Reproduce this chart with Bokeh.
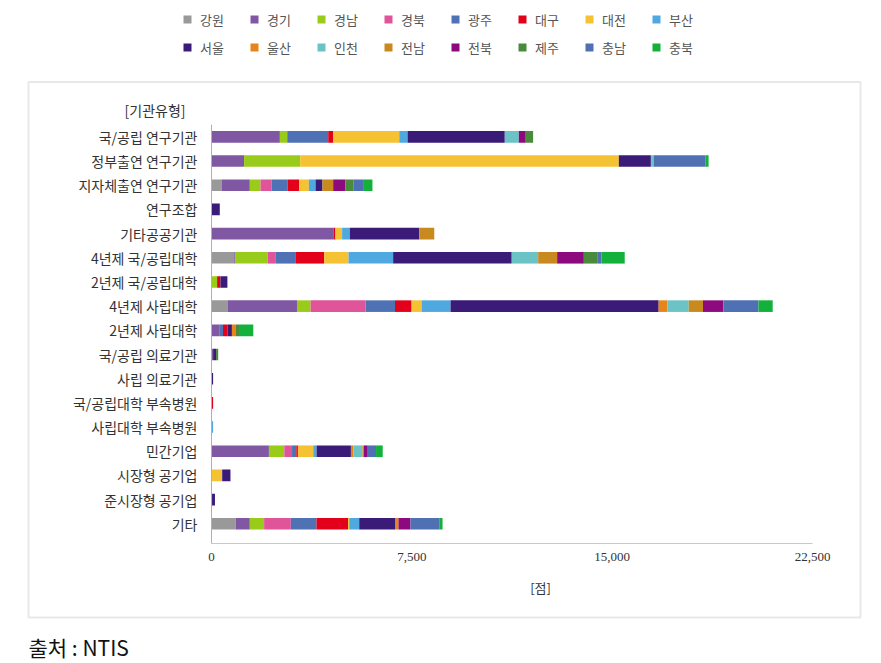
from bokeh.plotting import figure
from bokeh.models import (Range1d, FixedTicker, NumeralTickFormatter, Legend, LegendItem,
                          Label, Title, LinearAxis, ColumnDataSource, BoxAnnotation)
from bokeh.embed import file_html
from bokeh.resources import INLINE

KR = "Noto Sans CJK KR"

categories = ["국/공립 연구기관", "정부출연 연구기관", "지자체출연 연구기관", "연구조합", "기타공공기관",
              "4년제 국/공립대학", "2년제 국/공립대학", "4년제 사립대학", "2년제 사립대학",
              "국/공립 의료기관", "사립 의료기관", "국/공립대학 부속병원", "사립대학 부속병원",
              "민간기업", "시장형 공기업", "준시장형 공기업", "기타"]

regions = ["강원", "경기", "경남", "경북", "광주", "대구", "대전", "부산",
           "서울", "울산", "인천", "전남", "전북", "제주", "충남", "충북"]

colors = ["#999999", "#8057a3", "#99cc1a", "#e0559a", "#4f72b5", "#e3001b", "#f4c233", "#4fa8e0",
          "#3a1c78", "#e8851a", "#6cc3c6", "#c8891e", "#8c0a7e", "#4a8a3c", "#5070b4", "#13b03c"]

#            국공연  정부  지자체 조합  기타공  4국공  2국공  4사립  2사립 국의료 사의료 국병원 사병원 민간  시장  준시장 기타
gangwon   = [0,     0,     375,  0,    0,     850,   0,     600,   0,    0,    0,    0,    0,    0,    0,   0,    910]
gyeonggi  = [2560,  1220,  1060, 0,    4580,  50,    0,     2600,  310,  60,   0,    0,    0,    2150, 0,   20,   525]
gyeongnam = [275,   2100,  400,  0,    0,     1200,  210,   510,   0,    0,    0,    0,    0,    575,  0,   0,    535]
gyeongbuk = [0,     0,     410,  0,    0,     310,   0,     2060,  0,    0,    0,    0,    0,    290,  0,   0,    1000]
gwangju   = [1535,  0,     600,  0,    0,     750,   0,     1100,  120,  0,    0,    0,    0,    160,  0,   0,    960]
daegu     = [190,   0,     440,  0,    60,    1060,  125,   620,   175,  0,    0,    60,   0,    60,   0,   0,    1185]
daejeon   = [2470,  11930, 360,  0,    250,   910,   0,     375,   0,    0,    0,    0,    0,    575,  400, 0,    40]
busan     = [310,   0,     250,  0,    290,   1670,  0,     1085,  0,    0,    0,    0,    60,   125,  0,   0,    375]
seoul     = [3640,  1200,  260,  310,  2600,  4440,  260,   7790,  160,  110,  60,   0,    0,    1285, 310, 110,  1360]
ulsan     = [0,     0,     0,    0,    0,     0,     0,     325,   150,  0,    0,    0,    0,    90,   0,   0,    110]
incheon   = [525,   100,   0,    0,    0,     990,   0,     800,   0,    0,    0,    0,    0,    340,  0,   0,    0]
jeonnam   = [0,     0,     400,  0,    560,   710,   0,     535,   0,    0,    0,    0,    0,    60,   0,   0,    0]
jeonbuk   = [260,   0,     460,  0,    0,     1000,  0,     765,   0,    0,    0,    0,    0,    140,  0,   0,    450]
jeju      = [275,   0,     310,  0,    0,     500,   0,     0,     150,  80,   0,    0,    0,    0,    0,   0,    0]
chungnam  = [0,     1950,  350,  0,    0,     160,   0,     1310,  0,    0,    0,    0,    0,    310,  0,   0,    1075]
chungbuk  = [0,     110,   350,  0,    0,     870,   0,     535,   500,  0,    0,    0,    0,    250,  0,   0,    125]

series = [gangwon, gyeonggi, gyeongnam, gyeongbuk, gwangju, daegu, daejeon, busan,
          seoul, ulsan, incheon, jeonnam, jeonbuk, jeju, chungnam, chungbuk]

x_ticks = [0, 7500, 15000, 22500]
x_max = 22500

# ---- layout geometry (pixels) ----
W, H = 881, 663
FRAME_BOTTOM = 630
X0_PX, XMAX_PX = 211, 812          # where 0 and x_max fall
ROW0_PX, ROW_PITCH = 137, 24.3     # centre of first row, row spacing
kx = (XMAX_PX - X0_PX) / x_max

def px2x(px):
    return (px - X0_PX) / kx

def px2y(py):
    return (py - ROW0_PX) / ROW_PITCH

n = len(categories)
y_pos = list(range(n))
data = {"y": y_pos}
for name, vals in zip(regions, series):
    data[name] = vals
source = ColumnDataSource(data)

p = figure(width=W, height=H, output_backend="svg", toolbar_location=None,
           x_range=Range1d(px2x(0), px2x(W)), y_range=Range1d(px2y(FRAME_BOTTOM), px2y(0)),
           x_axis_type=None, y_axis_type=None,
           min_border_left=0, min_border_right=0, min_border_top=0,
           min_border_bottom=H - FRAME_BOTTOM,
           background_fill_color="white", border_fill_color="white")
p.outline_line_color = None

# outer box around the chart body
p.add_layout(BoxAnnotation(left=px2x(28), right=px2x(860), top=px2y(82), bottom=px2y(620),
                           fill_color=None, line_color="#b4b4b4", line_width=2))

renderers = p.hbar_stack(regions, y="y", height=0.48, fill_color=colors, line_color=None,
                         source=source)

axis_bottom = px2y(546)
yaxis = LinearAxis(fixed_location=0, bounds=(-0.5, axis_bottom), ticker=FixedTicker(ticks=y_pos),
                   major_label_overrides={i: c for i, c in enumerate(categories)})
yaxis.axis_line_color = "#b0b0b0"
yaxis.axis_line_width = 1
yaxis.major_tick_line_color = None
yaxis.minor_tick_line_color = None
yaxis.major_label_standoff = 8
yaxis.major_label_text_font = KR
yaxis.major_label_text_font_size = "14px"
yaxis.major_label_text_color = "#333333"
p.add_layout(yaxis, "left")

xaxis = LinearAxis(fixed_location=axis_bottom, bounds=(0, x_max), ticker=FixedTicker(ticks=x_ticks),
                   formatter=NumeralTickFormatter(format="0,0"))
xaxis.axis_line_color = "#c8c8c8"
xaxis.axis_line_width = 1
xaxis.major_tick_line_color = None
xaxis.minor_tick_line_color = None
xaxis.major_label_standoff = 3
xaxis.major_label_text_font = "Liberation Sans Narrow"
xaxis.major_label_text_font_size = "13px"
xaxis.major_label_text_color = "#333333"
p.add_layout(xaxis, "below")

# axis titles
p.add_layout(Label(x=px2x(540), y=px2y(590), text="[점]", text_align="center",
                   text_baseline="middle", text_font=KR, text_font_size="13px",
                   text_color="#333333"))
p.add_layout(Label(x=0, y=px2y(110), x_offset=-26, text="[기관유형]", text_align="right",
                   text_baseline="middle", text_font=KR, text_font_size="14px",
                   text_color="#333333"))

legend = Legend(items=[LegendItem(label=r, renderers=[rr]) for r, rr in zip(regions, renderers)],
                orientation="horizontal", nrows=2, location=(182, FRAME_BOTTOM - 60),
                glyph_width=10, glyph_height=10, label_standoff=8, label_width=41,
                label_height=20, spacing=8, padding=0, margin=0,
                border_line_color=None, background_fill_alpha=0,
                label_text_font=KR, label_text_font_size="13px", label_text_color="#555555")
p.add_layout(legend, "center")

p.add_layout(Title(text="출처 : NTIS", align="left", offset=28, text_font=KR, text_font_size="21px",
                   text_font_style="normal", text_color="#111111", standoff=4), "below")

open("out.html", "w").write(file_html(p, INLINE))
